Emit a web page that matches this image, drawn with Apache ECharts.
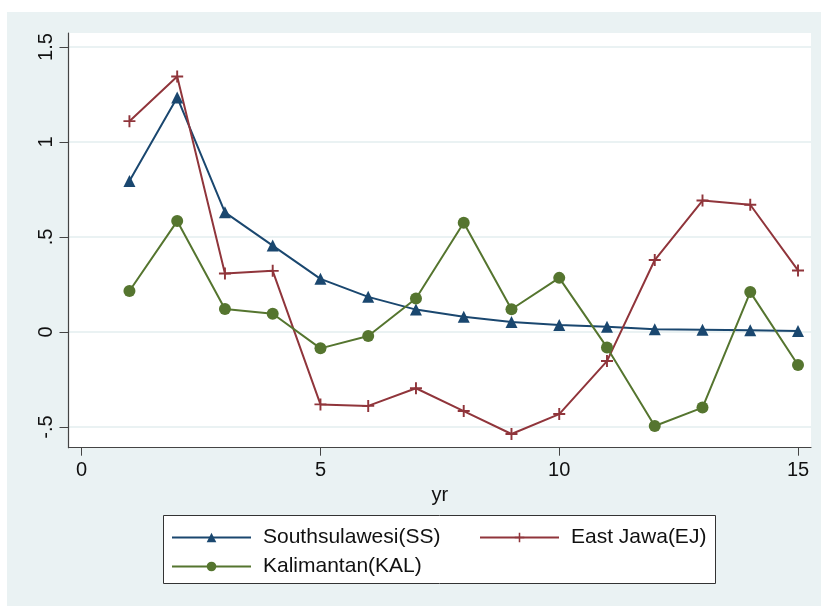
<!DOCTYPE html>
<html>
<head>
<meta charset="utf-8">
<script src="https://cdn.jsdelivr.net/npm/echarts@6/dist/echarts.min.js"></script>
<style>html,body{margin:0;padding:0;background:#fff;}#c{width:821px;height:606px;}</style>
</head>
<body>
<div id="c"></div>
<script>
const years = [1,2,3,4,5,6,7,8,9,10,11,12,13,14,15];
const ssValues = [0.795,1.235,0.63,0.455,0.28,0.185,0.118,0.08,0.053,0.037,0.028,0.014,0.012,0.009,0.005];
const ejValues = [1.11,1.345,0.308,0.322,-0.381,-0.389,-0.296,-0.416,-0.537,-0.432,-0.153,0.379,0.692,0.67,0.324];
const kalValues = [0.216,0.584,0.121,0.096,-0.086,-0.021,0.176,0.575,0.12,0.285,-0.081,-0.495,-0.398,0.21,-0.174];
const xTicks = [0,5,10,15];
const yTicks = [-0.5,0,0.5,1,1.5];
const seriesNames = ['Southsulawesi(SS)','East Jawa(EJ)','Kalimantan(KAL)'];

const colors = ['#1a476f','#90353b','#55752f'];
const bg = '#eaf2f3';
const font = 'Liberation Sans, Arial, sans-serif';
const plusPath = 'path://M0,4.2H10V5.8H0ZM4.2,0H5.8V10H4.2Z';

function pair(vals){ return years.map((y,i)=>[y, vals[i]]); }
function fmt(v){ return String(v).replace(/^(-?)0\./,'$1.'); }

const chart = echarts.init(document.getElementById('c'), null, {renderer:'canvas'});
chart.setOption({
  animation:false,
  backgroundColor:'#fff',
  graphic:[
    {type:'rect', z:-10, shape:{x:7,y:12,width:814,height:594}, style:{fill:bg}},
    {type:'rect', z:1, shape:{x:163.5,y:515.5,width:552,height:68}, style:{fill:'#fff'}},
    {type:'rect', z:50, silent:true, shape:{x:163.5,y:515.5,width:552,height:68}, style:{fill:'none', stroke:'#333', lineWidth:1}}
  ],
  grid:{left:68.5, top:33, right:10, bottom:158.3, show:true, backgroundColor:'#fff', borderWidth:0},
  xAxis:{
    type:'value', min:-0.276, max:15.272,
    name:'yr', nameLocation:'middle', nameGap:36,
    nameTextStyle:{fontFamily:font, fontSize:20, color:'#111'},
    axisLine:{show:true, onZero:false, lineStyle:{color:'#444', width:1.2}},
    axisTick:{show:true, length:8, customValues:xTicks, lineStyle:{color:'#444'}},
    axisLabel:{customValues:xTicks, margin:13, fontFamily:font, fontSize:20, color:'#111', formatter:fmt},
    splitLine:{show:false}
  },
  yAxis:{
    type:'value', min:-0.609, max:1.574,
    axisLine:{show:true, onZero:false, lineStyle:{color:'#444', width:1.2}},
    axisTick:{show:true, length:9, customValues:yTicks, lineStyle:{color:'#444'}},
    axisLabel:{customValues:yTicks, rotate:90, margin:12, fontFamily:font, fontSize:20, color:'#111', formatter:fmt},
    splitLine:{show:true, lineStyle:{color:bg, width:2}}
  },
  legend:[
    {orient:'vertical', left:166, top:522, itemWidth:79, itemHeight:12, itemGap:8,
     data:[seriesNames[0], seriesNames[2]], z:10,
     textStyle:{fontFamily:font, fontSize:21, color:'#111', padding:[0,0,0,7]}},
    {orient:'vertical', left:474, top:522, itemWidth:79, itemHeight:12, itemGap:8,
     data:[seriesNames[1]], z:10,
     textStyle:{fontFamily:font, fontSize:21, color:'#111', padding:[0,0,0,7]}}
  ],
  series:[
    {name:seriesNames[0], type:'line', data:pair(ssValues), color:colors[0],
     symbol:'triangle', symbolSize:12, showAllSymbol:true,
     lineStyle:{width:2, color:colors[0]}, itemStyle:{color:colors[0]}},
    {name:seriesNames[1], type:'line', data:pair(ejValues), color:colors[1],
     symbol:plusPath, symbolSize:12, showAllSymbol:true,
     lineStyle:{width:2, color:colors[1]}, itemStyle:{color:colors[1]}},
    {name:seriesNames[2], type:'line', data:pair(kalValues), color:colors[2],
     symbol:'circle', symbolSize:12, showAllSymbol:true,
     lineStyle:{width:2, color:colors[2]}, itemStyle:{color:colors[2]}}
  ]
});
</script>
</body>
</html>
